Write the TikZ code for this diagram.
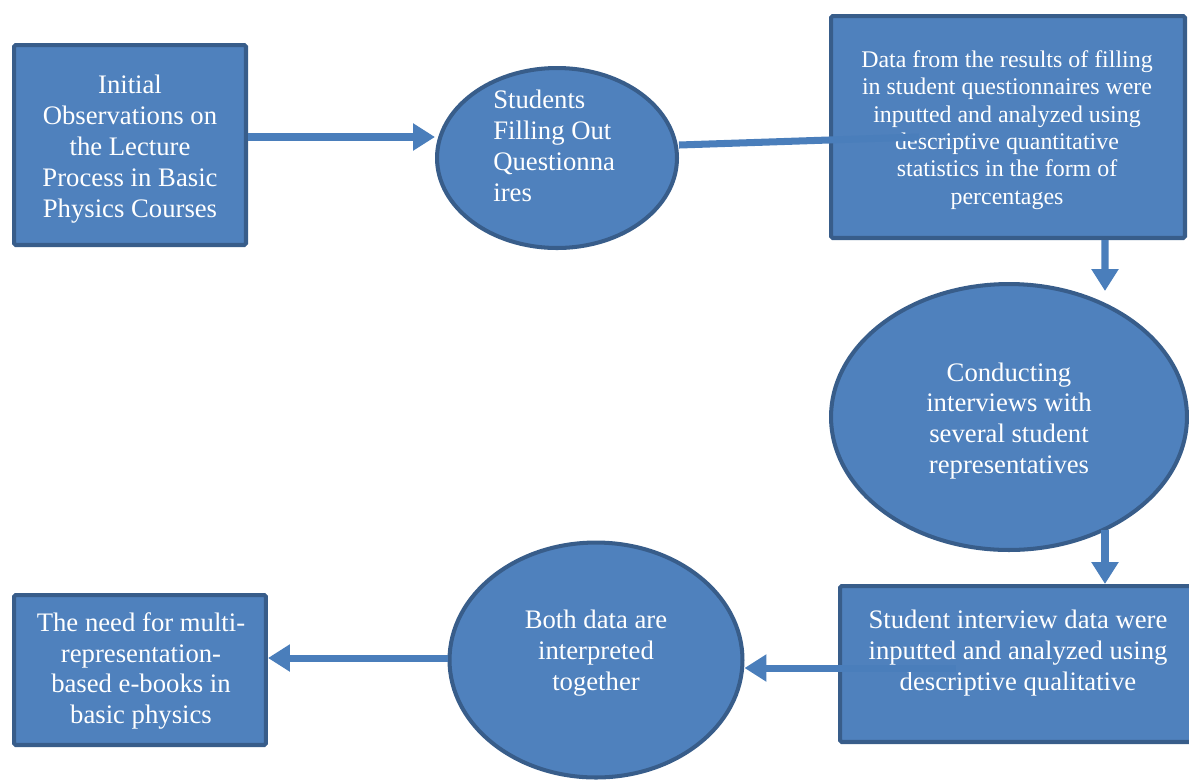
\documentclass[tikz,border=0pt]{standalone}
\usepackage{fontspec}
\setmainfont{Liberation Serif}
\usetikzlibrary{arrows.meta,shapes.geometric}
\definecolor{boxfill}{HTML}{4F81BD}
\definecolor{boxline}{HTML}{385D8A}
\definecolor{flowline}{HTML}{4A7EBB}
\begin{document}
\begin{tikzpicture}[x=0.02cm,y=-0.02cm]
  \tikzset{txt/.style={inner sep=0pt,text=white,align=center,font=\fontsize{15.2}{17.6}\selectfont},
    pbox/.style={txt,draw=boxline,fill=boxfill,line width=2.3pt,rounded corners=1pt},
    pell/.style={txt,draw=boxline,fill=boxfill,line width=2.3pt,ellipse},
    flow/.style={draw=flowline,line width=4pt,-{Triangle[length=0.44cm,width=0.52cm]}}}
  \useasboundingbox (0,0) rectangle (1189,782);
  % top row
  \node[pbox,minimum width=4.64cm,minimum height=4cm] (obs) at (130,145) {};
  \node[txt] (obst) at (130,149) {Initial\\Observations on\\the Lecture\\Process in Basic\\Physics Courses};
  \node[pell,minimum width=4.8cm,minimum height=3.6cm] (fill) at (557,158) {};
  \node[txt,align=left,anchor=west] (fillt) at (493,146) {Students\\Filling Out\\Questionna\\ires};
  \node[pbox,minimum width=7.08cm,minimum height=4.44cm] (quant) at (1008,127) {};
  \node[txt,font=\fontsize{13.6}{15.6}\selectfont] (quantt) at (1007,130) {Data from the results of filling\\in student questionnaires were\\inputted and analyzed using\\descriptive quantitative\\statistics in the form of\\percentages};
  % right side
  \node[pell,minimum width=7.12cm,minimum height=5.32cm] (intv) at (1009,417) {};
  \node[txt] (intvt) at (1009,421) {Conducting\\interviews with\\several student\\representatives};
  % bottom row
  \node[pbox,minimum width=7.12cm,minimum height=3.12cm] (qual) at (1018,664) {};
  \node[txt] (qualt) at (1018,653) {Student interview data were\\inputted and analyzed using\\descriptive qualitative};
  \node[pell,minimum width=5.86cm,minimum height=4.7cm] (both) at (596,660) {};
  \node[txt] (botht) at (596,653) {Both data are\\interpreted\\together};
  \node[pbox,minimum width=5.04cm,minimum height=3cm] (need) at (140,670) {};
  \node[txt] (needt) at (141,671) {The need for multi-\\representation-\\based e-books in\\basic physics};
  % connectors
  \draw[flow] ([yshift=0.16cm]obs.east) -- ([yshift=0.16cm]obs.east -| fill.west);
  \draw[draw=flowline,line width=4pt] ([yshift=0.26cm]fill.east) -- ([xshift=1.8cm,yshift=-0.2cm]quant.west);
  \draw[flow] ([xshift=1.94cm]quant.south) -- ([xshift=1.92cm,yshift=-0.18cm]intv.north);
  \draw[flow] ([xshift=1.74cm]qual.north |- intv.-49) -- ([xshift=1.74cm]qual.north);
  \draw[flow] ([xshift=2.36cm,yshift=-0.08cm]qual.west) -- ([yshift=-0.08cm]qual.west -| both.east);
  \draw[flow] ([yshift=0.04cm]both.west) -- ([yshift=0.04cm]both.west -| need.east);
\end{tikzpicture}
\end{document}
